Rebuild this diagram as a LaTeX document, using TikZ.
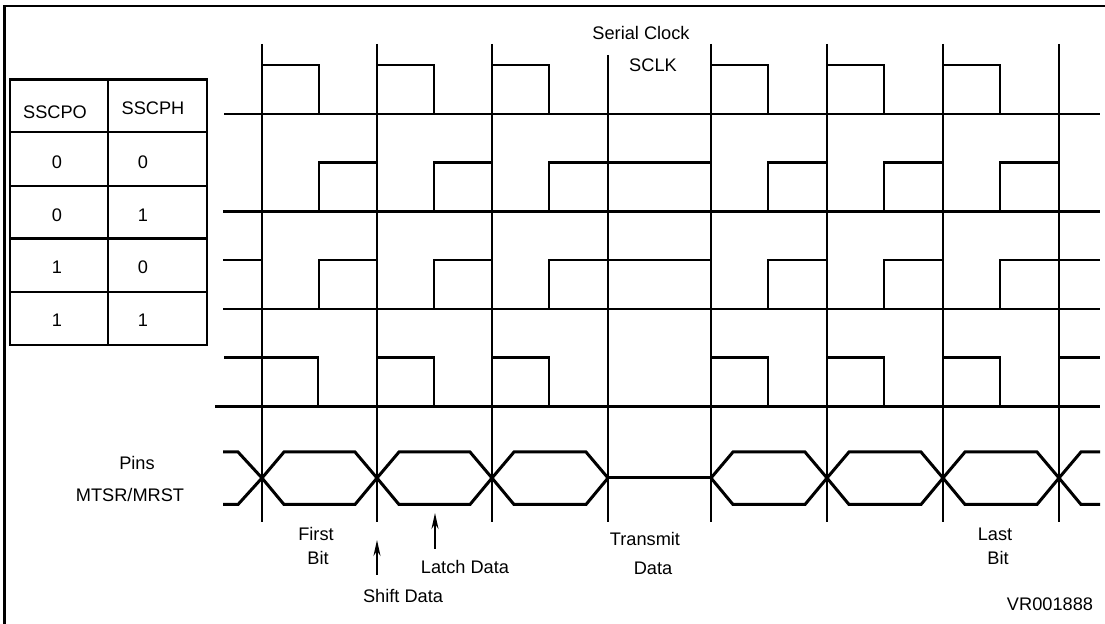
\documentclass[tikz,border=0pt]{standalone}
\usepackage{fontspec}
\setmainfont{Liberation Sans}
\usetikzlibrary{arrows.meta}

\begin{document}
\begin{tikzpicture}[x=0.5pt,y=-0.5pt,
    wave/.style={line width=1.2pt},
    clock line/.style={line width=1.2pt},
    eye/.style={line width=1.5pt,line join=miter},
    lbl/.style={font=\fontsize{9.1}{11}\selectfont,inner sep=0pt},
    marker/.style={line width=1pt,-{Stealth[length=8pt,width=3.5pt]}}]
    \useasboundingbox (0,0) rectangle (1105,624);

    % frame
    \draw[line width=1.2pt] (4.5,700) -- (4.5,6) -- (1200,6);

    % mode table
    \draw[line width=1.2pt] (10,79.5) rectangle (207,345);
    \draw[line width=1.2pt] (108,79.5) -- (108,345);
    \foreach \y in {132,186,238.5,292}
        \draw[line width=1.2pt] (10,\y) -- (207,\y);
    \node[lbl] (po) at (55,112) {SSCPO};
    \node[lbl] (ph) at (153,108) {SSCPH};
    \foreach \po/\ph/\y [count=\i] in {0/0/162,0/1/215,1/0/267,1/1/320} {
        \node[lbl] (po\i) at (57,\y) {\po};
        \node[lbl] (ph\i) at (143,\y) {\ph};
    }

    % base lines
    \foreach \y/\x in {114/224,211.5/223,309/223,406.5/215}
        \draw[wave] (\x,\y) -- (1100,\y);

    % clock edges
    \foreach \x in {262,377,492,711,827,943,1059}
        \draw[clock line] (\x,44) -- (\x,522);
    \draw[clock line] (608,55) -- (608,522);

    % SSCPO=0, SSCPH=0
    \foreach \x in {262,377,492,711,827,943}
        \draw[wave] (\x,114) -- (\x,65) -- ({\x+57},65) -- ({\x+57},114);

    % SSCPO=0, SSCPH=1
    \foreach \x/\n in {262/377,377/492,492/711,711/827,827/943,943/1059}
        \draw[wave] ({\x+57},211.5) -- ({\x+57},162.5) -- (\n,162.5) -- (\n,211.5);

    % SSCPO=1, SSCPH=0
    \draw[wave] (223,260) -- (262,260) -- (262,309);
    \foreach \x/\n in {262/377,377/492,492/711,711/827,827/943}
        \draw[wave] ({\x+57},309) -- ({\x+57},260) -- (\n,260) -- (\n,309);
    \draw[wave] (1000,309) -- (1000,260) -- (1100,260);

    % SSCPO=1, SSCPH=1
    \draw[wave] (224,357.5) -- (318,357.5) -- (318,406.5);
    \foreach \x in {377,492,711,827,943}
        \draw[wave] (\x,406.5) -- (\x,357.5) -- ({\x+57},357.5) -- ({\x+57},406.5);
    \draw[wave] (1059,406.5) -- (1059,357.5) -- (1100,357.5);

    % data pins
    \draw[eye] (223,452) -- (238,452) -- (262,478) -- (238,504.5) -- (223,504.5);
    \foreach \a/\b in {262/377,377/492,492/608,711/827,827/943,943/1059}
        \draw[eye] (\a,478) -- ({\a+22},452) -- ({\b-22},452) -- (\b,478)
            -- ({\b-22},504.5) -- ({\a+22},504.5) -- cycle;
    \draw[eye] (608,478) -- (711,478);
    \draw[eye] (1100,452) -- (1081,452) -- (1059,478) -- (1081,504.5) -- (1100,504.5);

    % labels
    \node[lbl] (serial) at (641,33) {Serial Clock};
    \node[lbl] (sclk) at (653,65) {SCLK};
    \node[lbl] (pins) at (137,463) {Pins};
    \node[lbl] (mtsr) at (130,495) {MTSR/MRST};
    \node[lbl] (first) at (316,534) {First};
    \node[lbl] (firstbit) at (318,558) {Bit};
    \node[lbl] (shift) at (403,596) {Shift Data};
    \node[lbl] (latch) at (465,567) {Latch Data};
    \node[lbl] (transmit) at (645,539) {Transmit};
    \node[lbl] (tdata) at (653,568) {Data};
    \node[lbl] (last) at (995,534) {Last};
    \node[lbl] (lastbit) at (998,558) {Bit};
    \node[lbl] (code) at (1050,604) {VR001888};

    % event arrows
    \coordinate (shift tail) at (377,575);
    \coordinate (shift tip) at (377,540);
    \coordinate (latch tail) at (435,549);
    \coordinate (latch tip) at (435,513);
    \draw[marker] (shift tail) -- (shift tip);
    \draw[marker] (latch tail) -- (latch tip);
\end{tikzpicture}
\end{document}
